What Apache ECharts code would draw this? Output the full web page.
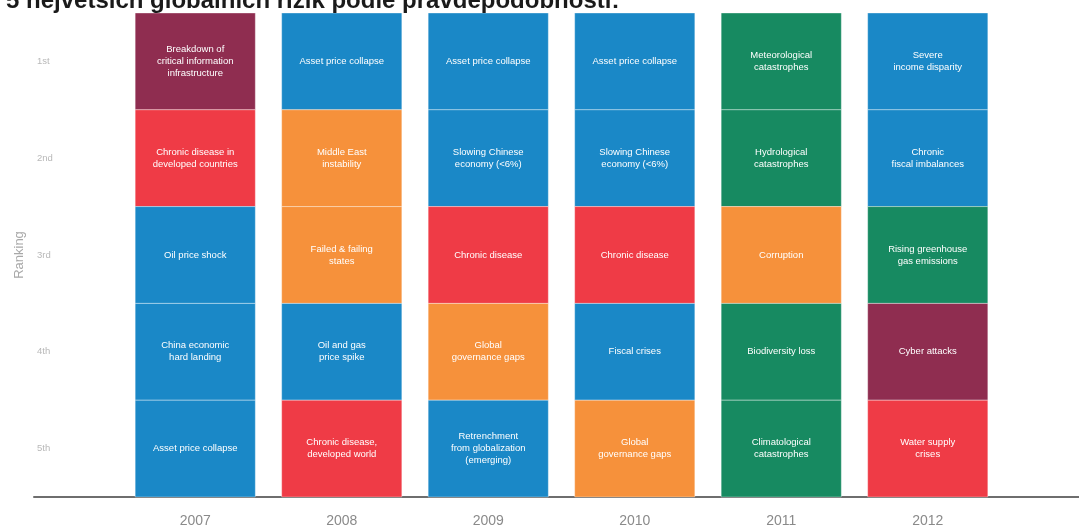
<!DOCTYPE html>
<html>
<head>
<meta charset="utf-8">
<script src="https://cdn.jsdelivr.net/npm/echarts@6/dist/echarts.min.js"></script>
<style>html,body{margin:0;padding:0;background:#fff}#c{width:1079px;height:531px}</style>
</head>
<body>
<div id="c"></div>
<script>
var titleText = '5 největších globálních rizik podle pravděpodobnosti:';
var years = ['2007', '2008', '2009', '2010', '2011', '2012'];
var ranks = ['1st', '2nd', '3rd', '4th', '5th'];

var risks2007 = ['Breakdown of\ncritical information\ninfrastructure', 'Chronic disease in\ndeveloped countries', 'Oil price shock', 'China economic\nhard landing', 'Asset price collapse'];
var types2007 = ['tech', 'soc', 'eco', 'eco', 'eco'];
var risks2008 = ['Asset price collapse', 'Middle East\ninstability', 'Failed & failing\nstates', 'Oil and gas\nprice spike', 'Chronic disease,\ndeveloped world'];
var types2008 = ['eco', 'geo', 'geo', 'eco', 'soc'];
var risks2009 = ['Asset price collapse', 'Slowing Chinese\neconomy (<6%)', 'Chronic disease', 'Global\ngovernance gaps', 'Retrenchment\nfrom globalization\n(emerging)'];
var types2009 = ['eco', 'eco', 'soc', 'geo', 'eco'];
var risks2010 = ['Asset price collapse', 'Slowing Chinese\neconomy (<6%)', 'Chronic disease', 'Fiscal crises', 'Global\ngovernance gaps'];
var types2010 = ['eco', 'eco', 'soc', 'eco', 'geo'];
var risks2011 = ['Meteorological\ncatastrophes', 'Hydrological\ncatastrophes', 'Corruption', 'Biodiversity loss', 'Climatological\ncatastrophes'];
var types2011 = ['env', 'env', 'geo', 'env', 'env'];
var risks2012 = ['Severe\nincome disparity', 'Chronic\nfiscal imbalances', 'Rising greenhouse\ngas emissions', 'Cyber attacks', 'Water supply\ncrises'];
var types2012 = ['eco', 'eco', 'env', 'tech', 'soc'];

var typeColors = { eco: '#1a88c7', soc: '#ef3b46', geo: '#f6913b', env: '#178a61', tech: '#8f2d50' };

var allRisks = [risks2007, risks2008, risks2009, risks2010, risks2011, risks2012];
var allTypes = [types2007, types2008, types2009, types2010, types2011, types2012];

var data = [];
for (var i = 0; i < years.length; i++) {
  for (var j = 0; j < ranks.length; j++) {
    data.push({ value: [i, j], name: allRisks[i][j], type: allTypes[i][j] });
  }
}

var chart = echarts.init(document.getElementById('c'));
chart.setOption({
  animation: false,
  title: {
    text: titleText, left: 1, top: -16,
    textStyle: { fontSize: 24, fontWeight: 'bold', color: '#1a1a1a', fontFamily: 'Liberation Sans, Arial, sans-serif' }
  },
  grid: [
    { left: 122, width: 879, top: 13, height: 484 },
    { left: 34, right: 0, top: 13, height: 484 }
  ],
  xAxis: [
    {
      type: 'category', data: years, gridIndex: 0,
      axisLine: { show: false }, axisTick: { show: false },
      axisLabel: { margin: 17, fontSize: 14, color: '#8a8a8a', fontFamily: 'Liberation Sans, Arial, sans-serif' }
    },
    {
      type: 'value', gridIndex: 1, min: 0, max: 1,
      axisLine: { show: true, lineStyle: { color: '#6e6e6e', width: 2 } },
      axisTick: { show: false }, axisLabel: { show: false }, splitLine: { show: false }
    }
  ],
  yAxis: [
    {
      type: 'category', data: ranks, inverse: true, gridIndex: 0,
      name: 'Ranking', nameLocation: 'middle', nameGap: 93, nameRotate: 90,
      nameTextStyle: { fontSize: 13, color: '#a8a8a8', fontFamily: 'Liberation Sans, Arial, sans-serif' },
      axisLine: { show: false }, axisTick: { show: false },
      axisLabel: { align: 'left', margin: 85, fontSize: 9.5, color: '#b8b8b8', fontFamily: 'Liberation Sans, Arial, sans-serif' }
    },
    {
      type: 'value', gridIndex: 1, show: false
    }
  ],
  series: [{
    type: 'custom',
    xAxisIndex: 0, yAxisIndex: 0,
    data: data,
    renderItem: function (params, api) {
      var idx = params.dataIndex;
      var item = data[idx];
      var c = api.coord([api.value(0), api.value(1)]);
      var sz = api.size([1, 1]);
      var w = sz[0] * 0.82;
      var h = sz[1];
      return {
        type: 'rect',
        shape: { x: c[0] - w / 2, y: c[1] - h / 2, width: w, height: h },
        style: { fill: typeColors[item.type], stroke: 'rgba(255,255,255,0.35)', lineWidth: 1 },
        textContent: {
          style: {
            text: item.name, fill: '#ffffff', fontSize: 9.5, lineHeight: 12, align: 'center',
            fontFamily: 'Liberation Sans Narrow, Liberation Sans, Arial, sans-serif'
          }
        },
        textConfig: { position: 'inside' }
      };
    }
  }]
});
</script>
</body>
</html>
